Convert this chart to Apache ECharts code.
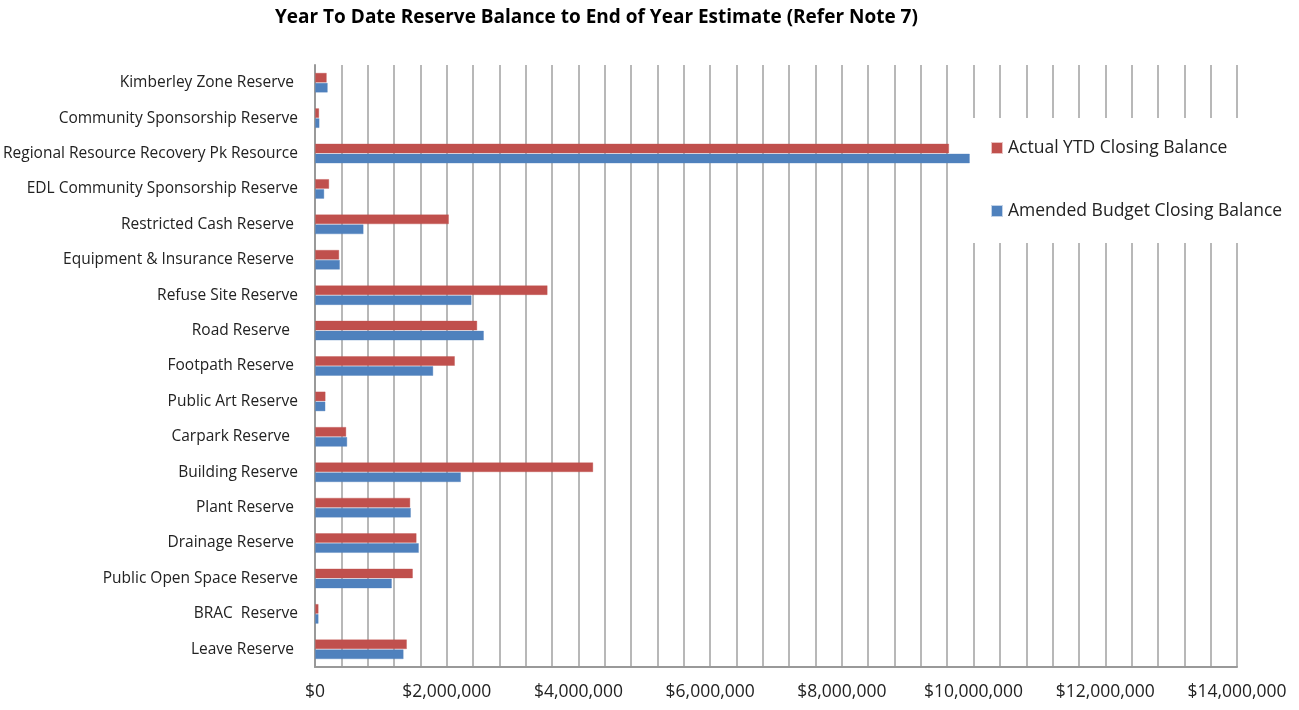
<!DOCTYPE html>
<html>
<head>
<meta charset="utf-8">
<script src="https://cdn.jsdelivr.net/npm/echarts@6/dist/echarts.min.js"></script>
<style>html,body{margin:0;padding:0;background:#fff}#c{width:1299px;height:710px}</style>
</head>
<body>
<div id="c"></div>
<script>
const categories = ["Leave Reserve ", "BRAC  Reserve", "Public Open Space Reserve", "Drainage Reserve ", "Plant Reserve ", "Building Reserve", "Carpark Reserve  ", "Public Art Reserve", "Footpath Reserve ", "Road Reserve  ", "Refuse Site Reserve", "Equipment & Insurance Reserve ", "Restricted Cash Reserve ", "EDL Community Sponsorship Reserve", "Regional Resource Recovery Pk Resource", "Community Sponsorship Reserve", "Kimberley Zone Reserve "];
const actualYTD = [1397000, 56000, 1488000, 1544000, 1448000, 4226000, 476000, 162000, 2126000, 2465000, 3533000, 369000, 2035000, 217000, 9630000, 65000, 180000];
const amendedBudget = [1347000, 56000, 1169000, 1579000, 1458000, 2217000, 491000, 160000, 1797000, 2566000, 2379000, 380000, 739000, 142000, 9945000, 70000, 195000];
const seriesNames = ["Actual YTD Closing Balance", "Amended Budget Closing Balance"];
const titleText = "Year To Date Reserve Balance to End of Year Estimate (Refer Note 7)";

const chart = echarts.init(document.getElementById('c'));
const font = "'Open Sans', sans-serif";
chart.setOption({
  animation: false,
  title: {
    text: titleText, left: 270, top: 3,
    textStyle: { fontFamily: font, fontWeight: 'bold', fontSize: 19, color: '#000' }
  },
  legend: {
    orient: 'vertical', left: 972, top: 118, itemGap: 45,
    itemWidth: 10, itemHeight: 10, icon: 'rect',
    padding: [21, 20, 23, 19],
    backgroundColor: '#fff',
    textStyle: { fontFamily: font, fontSize: 17.5, color: '#222', padding: [0, 0, 0, 1] },
    data: seriesNames
  },
  grid: { left: 315, right: 62, top: 65, bottom: 43, containLabel: false },
  xAxis: {
    type: 'value', min: 0, max: 14000000, interval: 400000,
    axisLine: { show: true, lineStyle: { color: '#999', width: 2 } },
    axisTick: { show: false },
    splitLine: { show: true, lineStyle: { color: '#b8b8b8', width: 2 } },
    axisLabel: {
      fontFamily: font, fontSize: 17.5, color: '#222', margin: 16,
      showMaxLabel: true,
      formatter: v => (v % 2000000 === 0) ? '$' + v.toLocaleString('en-US') : ''
    }
  },
  yAxis: {
    type: 'category', data: categories,
    axisLine: { show: true, lineStyle: { color: '#999', width: 2 } },
    axisTick: { show: false },
    axisLabel: { fontFamily: font, fontSize: 15.5, color: '#222', margin: 17 }
  },
  series: [
    { name: seriesNames[0], type: 'bar', data: actualYTD, barWidth: 10, barGap: '0%',
      itemStyle: { color: '#C0504D', borderColor: 'rgba(192,80,77,0.35)', borderWidth: 1 } },
    { name: seriesNames[1], type: 'bar', data: amendedBudget, barWidth: 10, barGap: '0%',
      itemStyle: { color: '#4F81BD', borderColor: 'rgba(79,129,189,0.35)', borderWidth: 1 } }
  ]
});
</script>
</body>
</html>
